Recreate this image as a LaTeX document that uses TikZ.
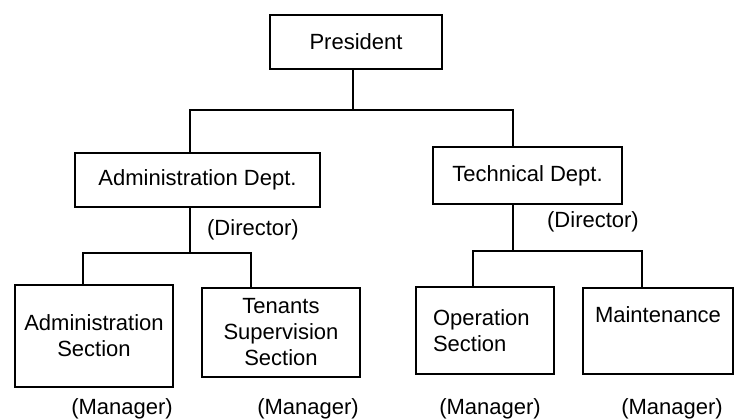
\documentclass[tikz,border=0pt]{standalone}
\usepackage{fontspec}
\setmainfont{Liberation Sans}
\begin{document}
\begin{tikzpicture}[x=1pt,y=-1pt,
  orgbox/.style={draw=black, line width=1.2pt, rectangle, inner sep=0pt, align=center,
    font=\fontsize{22}{26}\selectfont},
  lbl/.style={inner sep=0pt, font=\fontsize{22}{26}\selectfont},
  conn/.style={draw=black, line width=1.2pt}]
\fill[white] (0,0) rectangle (734,418);
\useasboundingbox (0,0) rectangle (734,418);

\node[orgbox, minimum width=172pt, minimum height=54pt] (pres) at (356,42) {President};
\node[orgbox, minimum width=245pt, minimum height=54pt] (admin) at (197.5,180) {Administration Dept.};
\node[orgbox, minimum width=189pt, minimum height=57pt] (tech) at (527.5,175.5) {Technical Dept.};

\node[orgbox, minimum width=158pt, minimum height=102pt] (adsec) at (94,336) {Administration\\Section};
\node[orgbox, minimum width=158pt, minimum height=89pt] (tenants) at (281,332.5) {Tenants\\Supervision\\Section};
\node[orgbox, minimum width=138pt, minimum height=87pt, text width=104pt, align=left] (opsec) at (485,330.5) {Operation\\Section};
\node[orgbox, minimum width=150pt, minimum height=86pt] (maint) at (658,331) {Maintenance\\\strut};

\node[lbl] (dirA) at (253,230) {(Director)};
\node[lbl] (dirT) at (593,222) {(Director)};
\node[lbl] (mgr1) at (122,409) {(Manager)};
\node[lbl] (mgr2) at (308,409) {(Manager)};
\node[lbl] (mgr3) at (490,409) {(Manager)};
\node[lbl] (mgr4) at (672,409) {(Manager)};

% top level connectors
\coordinate (j0) at (353,110);
\coordinate (jA) at (190,110);
\coordinate (jT) at (513,110);
\draw[conn] (j0 |- pres.south) -- (j0);
\draw[conn] (jA |- admin.north) -- (jA) -- (jT) -- (jT |- tech.north);

% administration connectors
\coordinate (a0) at (190,253);
\coordinate (a1) at (83,253);
\coordinate (a2) at (251,253);
\draw[conn] (a0 |- admin.south) -- (a0);
\draw[conn] (a1 |- adsec.north) -- (a1) -- (a2) -- (a2 |- tenants.north);

% technical connectors
\coordinate (t0) at (513,251);
\coordinate (t1) at (473,251);
\coordinate (t2) at (642,251);
\draw[conn] (t0 |- tech.south) -- (t0);
\draw[conn] (t1 |- opsec.north) -- (t1) -- (t2) -- (t2 |- maint.north);
\end{tikzpicture}
\end{document}
